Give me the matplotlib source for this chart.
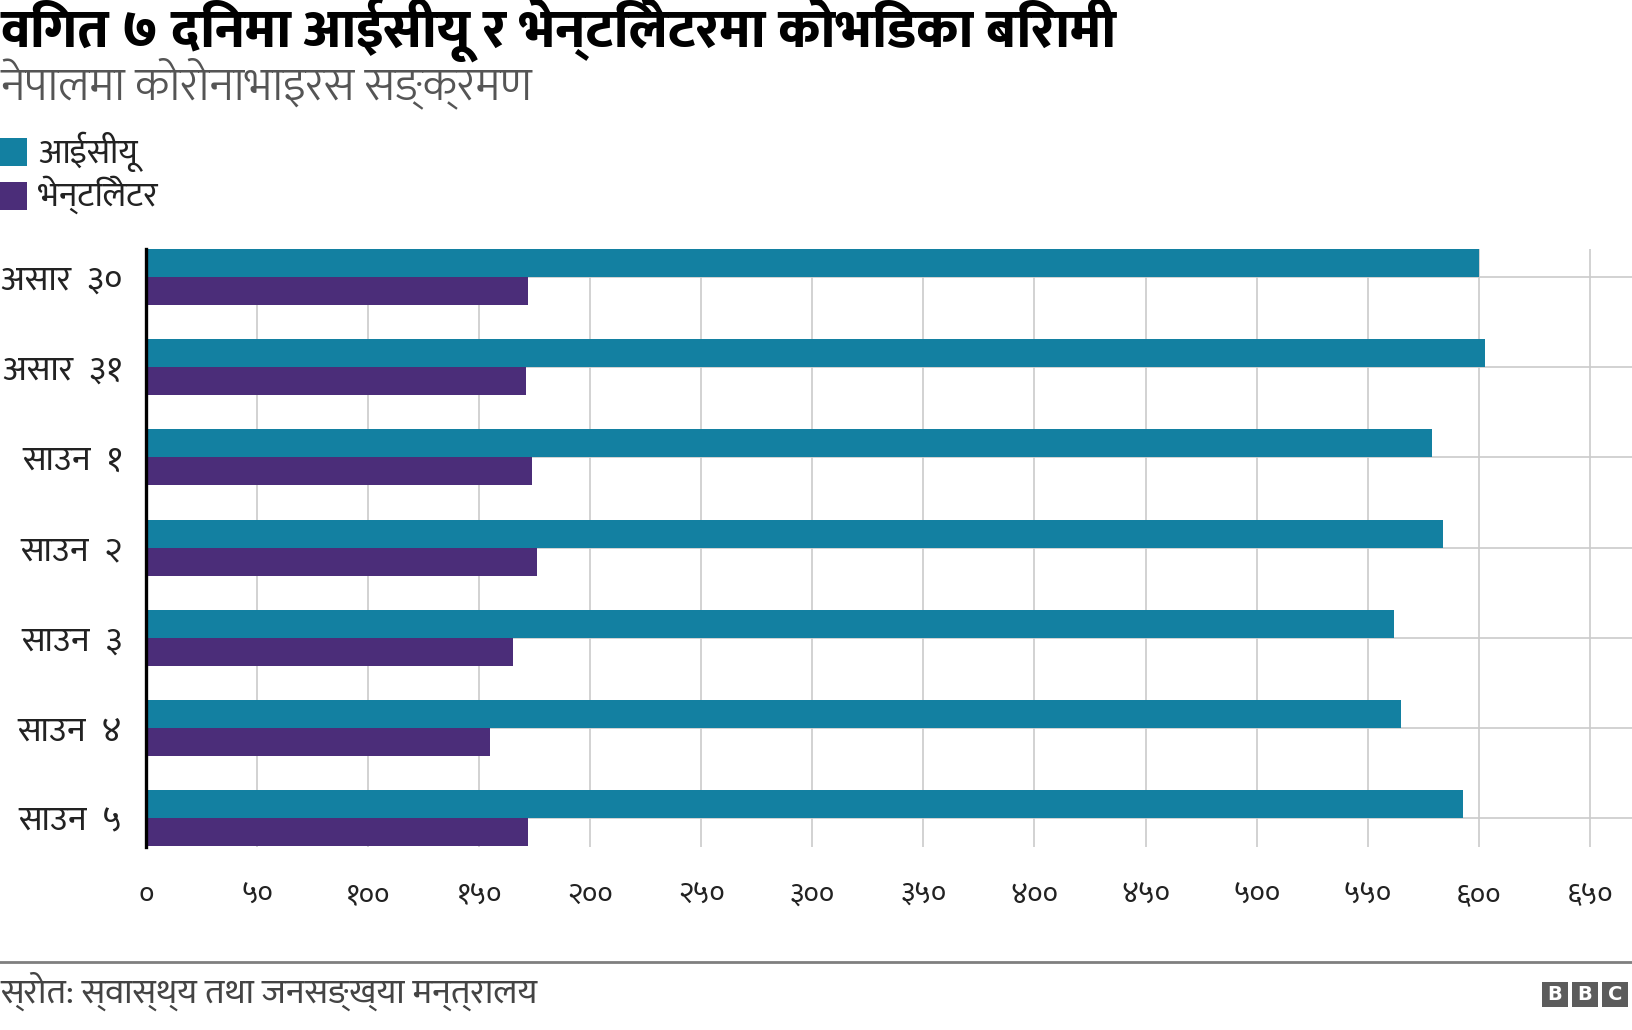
import matplotlib
matplotlib.use("Agg")
import matplotlib.pyplot as plt
from matplotlib.patches import Rectangle
from matplotlib.lines import Line2D

# ---- data ----
categories = ["असार  ३०", "असार  ३१", "साउन  १", "साउन  २", "साउन  ३", "साउन  ४", "साउन  ५"]
icu_values = [600, 603, 579, 584, 562, 565, 593]
ventilator_values = [172, 171, 174, 176, 165, 155, 172]
series_names = ["आईसीयू", "भेन्टिलेटर"]
x_ticks = [0, 50, 100, 150, 200, 250, 300, 350, 400, 450, 500, 550, 600, 650]
x_tick_labels = ["०", "५०", "१००", "१५०", "२००", "२५०", "३००", "३५०", "४००", "४५०", "५००", "५५०", "६००", "६५०"]
title = "विगत ७ दिनमा आईसीयू र भेन्टिलेटरमा कोभिडका बिरामी"
subtitle = "नेपालमा कोरोनाभाइरस सङ्क्रमण"
source = "स्रोत: स्वास्थ्य तथा जनसङ्ख्या मन्त्रालय"

ICU_COLOR = "#1380A1"
VENT_COLOR = "#4B2D79"
FONT = ["Mukta", "Noto Sans Devanagari", "DejaVu Sans"]

plt.rcParams["font.family"] = FONT

W, H = 1632, 1030
fig = plt.figure(figsize=(W / 100, H / 100), dpi=100)

def fx(px):
    return px / W

def fy(py):
    return 1 - py / H

ax_left, ax_right, ax_top, ax_bottom = 146, 1632, 249, 847
ax = fig.add_axes([fx(ax_left), fy(ax_bottom), fx(ax_right - ax_left), (ax_bottom - ax_top) / H])

bar_h = 0.311
ypos = list(range(len(categories)))
ax.barh([y - bar_h / 2 for y in ypos], icu_values, height=bar_h, color=ICU_COLOR, zorder=3)
ax.barh([y + bar_h / 2 for y in ypos], ventilator_values, height=bar_h, color=VENT_COLOR, zorder=3)

ax.set_xlim(0, 669)
ax.set_ylim(len(categories) - 1 + bar_h + 0.01, -bar_h)
ax.set_xticks(x_ticks)
ax.set_xticklabels(x_tick_labels)
ax.set_yticks(ypos)
ax.set_yticklabels(categories)
ax.grid(True, color="#cbcbcb", linewidth=1.2, zorder=0)
ax.set_axisbelow(True)
for s in ["top", "right", "bottom"]:
    ax.spines[s].set_visible(False)
ax.spines["left"].set_linewidth(2.4)
ax.spines["left"].set_color("#000000")
ax.spines["left"].set_zorder(4)
ax.tick_params(axis="both", length=0)
ax.tick_params(axis="x", pad=25, labelsize=21.5, labelcolor="#222222")
ax.tick_params(axis="y", pad=17, labelsize=25.5, labelcolor="#222222")

# ---- title / subtitle ----
fig.text(0, fy(47), title, fontsize=39, fontweight=800, va="baseline", ha="left", color="#000000")
fig.text(0, fy(99), subtitle, fontsize=33.5, fontweight=300, va="baseline", ha="left", color="#555555")

# ---- legend ----
for i, (name, col) in enumerate(zip(series_names, [ICU_COLOR, VENT_COLOR])):
    top = 138 + i * 44
    fig.patches.append(Rectangle((0, fy(top + 28)), fx(27), 28 / H, transform=fig.transFigure,
                                 facecolor=col, edgecolor="none"))
    fig.text(fx(38), fy(163 + i * 43), name, fontsize=25, va="baseline", ha="left", color="#222222")

# ---- footer ----
fig.add_artist(Line2D([0, 1], [fy(962), fy(962)], transform=fig.transFigure, color="#7f7f7f", linewidth=2))
fig.text(0, fy(1003), source, fontsize=25.5, va="baseline", ha="left", color="#444444")

# BBC logo
for i, letter in enumerate("BBC"):
    x0 = 1542 + i * 30
    fig.patches.append(Rectangle((fx(x0), fy(1007)), fx(26), 25 / H, transform=fig.transFigure,
                                 facecolor="#5c5c5c", edgecolor="none"))
    fig.text(fx(x0 + 13), fy(994.5), letter, fontsize=14, fontweight="bold", family="DejaVu Sans",
             color="white", ha="center", va="center")

fig.savefig("out.png", dpi=100)
